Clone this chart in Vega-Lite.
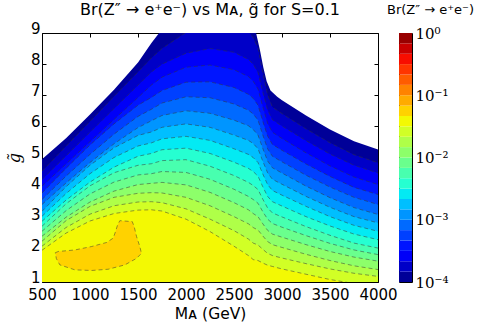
{
"$schema": "https://vega.github.io/schema/vega-lite/v6.json",
"padding": {"left": 5, "top": 1, "right": 5, "bottom": 5},
"background": "white",
"config": {
 "view": {"stroke": "#000", "strokeWidth": 1},
 "font": "DejaVu Sans",
 "axis": {"domain": false, "grid": false, "tickColor": "#000", "labelColor": "#000", "titleColor": "#000", "labelFont": "DejaVu Sans", "labelFontSize": 15, "titleFont": "DejaVu Sans", "titleFontSize": 15.5, "titleFontWeight": "normal", "labelOverlap": false, "labelFlush": false},
 "title": {"font": "DejaVu Sans", "fontWeight": "normal", "color": "#000"}
},
"datasets": {
 "contours": [
  {"k":0,"x":500,"y":4.94},{"k":0,"x":750,"y":5.62},{"k":0,"x":1000,"y":6.38},{"k":0,"x":1250,"y":7.18},{"k":0,"x":1500,"y":8.05},{"k":0,"x":1640,"y":8.68},{"k":0,"x":1720,"y":9.0},{"k":0,"x":1760,"y":9.2},{"k":0,"x":2000,"y":9.3},{"k":0,"x":2650,"y":9.3},{"k":0,"x":2700,"y":9.4},{"k":0,"x":2730,"y":9.0},{"k":0,"x":2770,"y":8.45},{"k":0,"x":2805,"y":7.9},{"k":0,"x":2840,"y":7.45},{"k":0,"x":2880,"y":7.15},{"k":0,"x":2950,"y":6.95},{"k":0,"x":3000,"y":6.84},{"k":0,"x":3250,"y":6.35},{"k":0,"x":3500,"y":5.9},{"k":0,"x":3750,"y":5.52},{"k":0,"x":4000,"y":5.26},
  {"k":1,"x":500,"y":4.56},{"k":1,"x":750,"y":5.36},{"k":1,"x":1000,"y":6.16},{"k":1,"x":1250,"y":6.96},{"k":1,"x":1500,"y":7.75},{"k":1,"x":1640,"y":8.2},{"k":1,"x":1750,"y":8.5},{"k":1,"x":2000,"y":9.02},{"k":1,"x":2250,"y":9.4},{"k":1,"x":2500,"y":9.3},{"k":1,"x":2650,"y":9.05},{"k":1,"x":2700,"y":8.85},{"k":1,"x":2750,"y":8.52},{"k":1,"x":2800,"y":7.73},{"k":1,"x":2850,"y":7.02},{"k":1,"x":2900,"y":6.62},{"k":1,"x":3000,"y":6.41},{"k":1,"x":3250,"y":5.92},{"k":1,"x":3500,"y":5.47},{"k":1,"x":3750,"y":5.09},{"k":1,"x":4000,"y":4.83},
  {"k":2,"x":500,"y":4.29},{"k":2,"x":750,"y":5.05},{"k":2,"x":1000,"y":5.81},{"k":2,"x":1250,"y":6.57},{"k":2,"x":1500,"y":7.32},{"k":2,"x":1640,"y":7.75},{"k":2,"x":1750,"y":8.0},{"k":2,"x":2000,"y":8.35},{"k":2,"x":2250,"y":8.5},{"k":2,"x":2500,"y":8.38},{"k":2,"x":2650,"y":8.15},{"k":2,"x":2700,"y":8.0},{"k":2,"x":2750,"y":7.73},{"k":2,"x":2800,"y":7.1},{"k":2,"x":2850,"y":6.53},{"k":2,"x":2900,"y":6.21},{"k":2,"x":3000,"y":6.01},{"k":2,"x":3250,"y":5.54},{"k":2,"x":3500,"y":5.11},{"k":2,"x":3750,"y":4.75},{"k":2,"x":4000,"y":4.5},
  {"k":3,"x":500,"y":4.08},{"k":3,"x":750,"y":4.79},{"k":3,"x":1000,"y":5.51},{"k":3,"x":1250,"y":6.22},{"k":3,"x":1500,"y":6.93},{"k":3,"x":1640,"y":7.33},{"k":3,"x":1750,"y":7.58},{"k":3,"x":2000,"y":7.9},{"k":3,"x":2250,"y":7.97},{"k":3,"x":2500,"y":7.82},{"k":3,"x":2650,"y":7.6},{"k":3,"x":2700,"y":7.45},{"k":3,"x":2750,"y":7.2},{"k":3,"x":2800,"y":6.63},{"k":3,"x":2850,"y":6.1},{"k":3,"x":2900,"y":5.81},{"k":3,"x":3000,"y":5.61},{"k":3,"x":3250,"y":5.15},{"k":3,"x":3500,"y":4.73},{"k":3,"x":3750,"y":4.37},{"k":3,"x":4000,"y":4.13},
  {"k":4,"x":500,"y":3.86},{"k":4,"x":750,"y":4.65},{"k":4,"x":1000,"y":5.4},{"k":4,"x":1250,"y":6.08},{"k":4,"x":1500,"y":6.68},{"k":4,"x":1640,"y":6.93},{"k":4,"x":1750,"y":7.15},{"k":4,"x":2000,"y":7.42},{"k":4,"x":2250,"y":7.43},{"k":4,"x":2500,"y":7.25},{"k":4,"x":2650,"y":7.03},{"k":4,"x":2700,"y":6.9},{"k":4,"x":2750,"y":6.68},{"k":4,"x":2800,"y":6.16},{"k":4,"x":2850,"y":5.69},{"k":4,"x":2900,"y":5.42},{"k":4,"x":3000,"y":5.23},{"k":4,"x":3250,"y":4.79},{"k":4,"x":3500,"y":4.39},{"k":4,"x":3750,"y":4.04},{"k":4,"x":4000,"y":3.81},
  {"k":5,"x":500,"y":3.65},{"k":5,"x":750,"y":4.4},{"k":5,"x":1000,"y":5.1},{"k":5,"x":1250,"y":5.75},{"k":5,"x":1500,"y":6.32},{"k":5,"x":1640,"y":6.55},{"k":5,"x":1750,"y":6.75},{"k":5,"x":2000,"y":6.95},{"k":5,"x":2250,"y":6.92},{"k":5,"x":2500,"y":6.72},{"k":5,"x":2650,"y":6.52},{"k":5,"x":2700,"y":6.4},{"k":5,"x":2750,"y":6.2},{"k":5,"x":2800,"y":5.72},{"k":5,"x":2850,"y":5.28},{"k":5,"x":2900,"y":5.04},{"k":5,"x":3000,"y":4.86},{"k":5,"x":3250,"y":4.43},{"k":5,"x":3500,"y":4.05},{"k":5,"x":3750,"y":3.72},{"k":5,"x":4000,"y":3.49},
  {"k":6,"x":500,"y":3.49},{"k":6,"x":750,"y":4.18},{"k":6,"x":1000,"y":4.84},{"k":6,"x":1250,"y":5.44},{"k":6,"x":1500,"y":5.96},{"k":6,"x":1640,"y":6.18},{"k":6,"x":1750,"y":6.35},{"k":6,"x":2000,"y":6.5},{"k":6,"x":2250,"y":6.42},{"k":6,"x":2500,"y":6.2},{"k":6,"x":2650,"y":6.02},{"k":6,"x":2700,"y":5.9},{"k":6,"x":2750,"y":5.72},{"k":6,"x":2800,"y":5.29},{"k":6,"x":2850,"y":4.89},{"k":6,"x":2900,"y":4.67},{"k":6,"x":3000,"y":4.5},{"k":6,"x":3250,"y":4.08},{"k":6,"x":3500,"y":3.71},{"k":6,"x":3750,"y":3.39},{"k":6,"x":4000,"y":3.17},
  {"k":7,"x":500,"y":3.27},{"k":7,"x":750,"y":4.06},{"k":7,"x":1000,"y":4.75},{"k":7,"x":1250,"y":5.31},{"k":7,"x":1500,"y":5.71},{"k":7,"x":1640,"y":5.82},{"k":7,"x":1750,"y":5.97},{"k":7,"x":2000,"y":6.08},{"k":7,"x":2250,"y":5.97},{"k":7,"x":2500,"y":5.72},{"k":7,"x":2650,"y":5.55},{"k":7,"x":2700,"y":5.45},{"k":7,"x":2750,"y":5.28},{"k":7,"x":2800,"y":4.88},{"k":7,"x":2850,"y":4.51},{"k":7,"x":2900,"y":4.3},{"k":7,"x":3000,"y":4.14},{"k":7,"x":3250,"y":3.75},{"k":7,"x":3500,"y":3.4},{"k":7,"x":3750,"y":3.1},{"k":7,"x":4000,"y":2.9},
  {"k":8,"x":500,"y":3.11},{"k":8,"x":750,"y":3.84},{"k":8,"x":1000,"y":4.48},{"k":8,"x":1250,"y":5.0},{"k":8,"x":1500,"y":5.37},{"k":8,"x":1640,"y":5.47},{"k":8,"x":1750,"y":5.6},{"k":8,"x":2000,"y":5.68},{"k":8,"x":2250,"y":5.55},{"k":8,"x":2500,"y":5.28},{"k":8,"x":2650,"y":5.1},{"k":8,"x":2700,"y":5.0},{"k":8,"x":2750,"y":4.84},{"k":8,"x":2800,"y":4.47},{"k":8,"x":2850,"y":4.13},{"k":8,"x":2900,"y":3.94},{"k":8,"x":3000,"y":3.79},{"k":8,"x":3250,"y":3.43},{"k":8,"x":3500,"y":3.1},{"k":8,"x":3750,"y":2.82},{"k":8,"x":4000,"y":2.63},
  {"k":9,"x":500,"y":2.95},{"k":9,"x":750,"y":3.63},{"k":9,"x":1000,"y":4.21},{"k":9,"x":1250,"y":4.69},{"k":9,"x":1500,"y":5.04},{"k":9,"x":1640,"y":5.13},{"k":9,"x":1750,"y":5.25},{"k":9,"x":2000,"y":5.3},{"k":9,"x":2250,"y":5.13},{"k":9,"x":2500,"y":4.85},{"k":9,"x":2650,"y":4.65},{"k":9,"x":2700,"y":4.55},{"k":9,"x":2750,"y":4.4},{"k":9,"x":2800,"y":4.06},{"k":9,"x":2850,"y":3.75},{"k":9,"x":2900,"y":3.58},{"k":9,"x":3000,"y":3.44},{"k":9,"x":3250,"y":3.1},{"k":9,"x":3500,"y":2.8},{"k":9,"x":3750,"y":2.54},{"k":9,"x":4000,"y":2.36},
  {"k":10,"x":500,"y":2.79},{"k":10,"x":750,"y":3.51},{"k":10,"x":1000,"y":4.09},{"k":10,"x":1250,"y":4.51},{"k":10,"x":1500,"y":4.75},{"k":10,"x":1640,"y":4.8},{"k":10,"x":1750,"y":4.9},{"k":10,"x":2000,"y":4.93},{"k":10,"x":2250,"y":4.72},{"k":10,"x":2500,"y":4.42},{"k":10,"x":2650,"y":4.2},{"k":10,"x":2700,"y":4.1},{"k":10,"x":2750,"y":3.97},{"k":10,"x":2800,"y":3.66},{"k":10,"x":2850,"y":3.38},{"k":10,"x":2900,"y":3.22},{"k":10,"x":3000,"y":3.09},{"k":10,"x":3250,"y":2.78},{"k":10,"x":3500,"y":2.5},{"k":10,"x":3750,"y":2.25},{"k":10,"x":4000,"y":2.09},
  {"k":11,"x":500,"y":2.63},{"k":11,"x":750,"y":3.29},{"k":11,"x":1000,"y":3.83},{"k":11,"x":1250,"y":4.21},{"k":11,"x":1500,"y":4.44},{"k":11,"x":1640,"y":4.48},{"k":11,"x":1750,"y":4.55},{"k":11,"x":2000,"y":4.52},{"k":11,"x":2250,"y":4.3},{"k":11,"x":2500,"y":3.98},{"k":11,"x":2650,"y":3.75},{"k":11,"x":2700,"y":3.65},{"k":11,"x":2750,"y":3.53},{"k":11,"x":2800,"y":3.26},{"k":11,"x":2850,"y":3.02},{"k":11,"x":2900,"y":2.88},{"k":11,"x":3000,"y":2.76},{"k":11,"x":3250,"y":2.49},{"k":11,"x":3500,"y":2.24},{"k":11,"x":3750,"y":2.03},{"k":11,"x":4000,"y":1.88},
  {"k":12,"x":500,"y":2.47},{"k":12,"x":750,"y":3.08},{"k":12,"x":1000,"y":3.57},{"k":12,"x":1250,"y":3.92},{"k":12,"x":1500,"y":4.13},{"k":12,"x":1640,"y":4.17},{"k":12,"x":1750,"y":4.2},{"k":12,"x":2000,"y":4.12},{"k":12,"x":2250,"y":3.88},{"k":12,"x":2500,"y":3.55},{"k":12,"x":2650,"y":3.32},{"k":12,"x":2700,"y":3.2},{"k":12,"x":2750,"y":3.1},{"k":12,"x":2800,"y":2.87},{"k":12,"x":2850,"y":2.66},{"k":12,"x":2900,"y":2.54},{"k":12,"x":3000,"y":2.44},{"k":12,"x":3250,"y":2.2},{"k":12,"x":3500,"y":1.98},{"k":12,"x":3750,"y":1.8},{"k":12,"x":4000,"y":1.67},
  {"k":13,"x":500,"y":2.31},{"k":13,"x":750,"y":2.97},{"k":13,"x":1000,"y":3.43},{"k":13,"x":1250,"y":3.72},{"k":13,"x":1500,"y":3.85},{"k":13,"x":1640,"y":3.87},{"k":13,"x":1750,"y":3.86},{"k":13,"x":2000,"y":3.72},{"k":13,"x":2250,"y":3.45},{"k":13,"x":2500,"y":3.1},{"k":13,"x":2650,"y":2.87},{"k":13,"x":2700,"y":2.75},{"k":13,"x":2750,"y":2.67},{"k":13,"x":2800,"y":2.48},{"k":13,"x":2850,"y":2.3},{"k":13,"x":2900,"y":2.2},{"k":13,"x":3000,"y":2.11},{"k":13,"x":3250,"y":1.89},{"k":13,"x":3500,"y":1.69},{"k":13,"x":3750,"y":1.52},{"k":13,"x":4000,"y":1.4},
  {"k":14,"x":500,"y":2.15},{"k":14,"x":750,"y":2.75},{"k":14,"x":1000,"y":3.18},{"k":14,"x":1250,"y":3.45},{"k":14,"x":1500,"y":3.57},{"k":14,"x":1640,"y":3.58},{"k":14,"x":1750,"y":3.55},{"k":14,"x":2000,"y":3.35},{"k":14,"x":2250,"y":3.02},{"k":14,"x":2500,"y":2.65},{"k":14,"x":2650,"y":2.38},{"k":14,"x":2700,"y":2.25},{"k":14,"x":2750,"y":2.19},{"k":14,"x":2800,"y":2.05},{"k":14,"x":2850,"y":1.92},{"k":14,"x":2900,"y":1.85},{"k":14,"x":3000,"y":1.77},{"k":14,"x":3250,"y":1.59},{"k":14,"x":3500,"y":1.42},{"k":14,"x":3750,"y":1.28},{"k":14,"x":4000,"y":1.18},
  {"k":15,"x":500,"y":2.02},{"k":15,"x":750,"y":2.57},{"k":15,"x":1000,"y":2.96},{"k":15,"x":1250,"y":3.2},{"k":15,"x":1500,"y":3.31},{"k":15,"x":1640,"y":3.32},{"k":15,"x":1750,"y":3.28},{"k":15,"x":2000,"y":3.02},{"k":15,"x":2250,"y":2.62},{"k":15,"x":2500,"y":2.15},{"k":15,"x":2650,"y":1.85},{"k":15,"x":2700,"y":1.72},{"k":15,"x":2750,"y":1.69},{"k":15,"x":2800,"y":1.61},{"k":15,"x":2850,"y":1.54},{"k":15,"x":2900,"y":1.5},{"k":15,"x":3000,"y":1.42},{"k":15,"x":3250,"y":1.25},{"k":15,"x":3500,"y":1.08},{"k":15,"x":3750,"y":0.95},{"k":15,"x":4000,"y":0.85}
 ],
 "blob": [
  {"i":1,"x":638,"y":1.94},{"i":2,"x":670,"y":1.98},{"i":3,"x":843,"y":2.03},{"i":4,"x":1017,"y":2.14},{"i":5,"x":1173,"y":2.27},{"i":6,"x":1242,"y":2.41},{"i":7,"x":1266,"y":2.62},{"i":8,"x":1287,"y":2.83},{"i":9,"x":1311,"y":2.97},{"i":10,"x":1440,"y":2.94},{"i":11,"x":1460,"y":2.78},{"i":12,"x":1485,"y":2.46},{"i":13,"x":1519,"y":2.14},{"i":14,"x":1536,"y":1.92},{"i":15,"x":1485,"y":1.76},{"i":16,"x":1363,"y":1.55},{"i":17,"x":1190,"y":1.41},{"i":18,"x":1017,"y":1.37},{"i":19,"x":843,"y":1.39},{"i":20,"x":686,"y":1.55},{"i":21,"x":650,"y":1.75}
 ],
 "bar": [
  {"k":0,"lo":0.0001,"hi":0.00014678},{"k":1,"lo":0.00014678,"hi":0.00021544},{"k":2,"lo":0.00021544,"hi":0.00031623},{"k":3,"lo":0.00031623,"hi":0.00046416},{"k":4,"lo":0.00046416,"hi":0.00068129},{"k":5,"lo":0.00068129,"hi":0.001},
  {"k":6,"lo":0.001,"hi":0.0014678},{"k":7,"lo":0.0014678,"hi":0.0021544},{"k":8,"lo":0.0021544,"hi":0.0031623},{"k":9,"lo":0.0031623,"hi":0.0046416},{"k":10,"lo":0.0046416,"hi":0.0068129},{"k":11,"lo":0.0068129,"hi":0.01},
  {"k":12,"lo":0.01,"hi":0.014678},{"k":13,"lo":0.014678,"hi":0.021544},{"k":14,"lo":0.021544,"hi":0.031623},{"k":15,"lo":0.031623,"hi":0.046416},{"k":16,"lo":0.046416,"hi":0.068129},{"k":17,"lo":0.068129,"hi":0.1},
  {"k":18,"lo":0.1,"hi":0.14678},{"k":19,"lo":0.14678,"hi":0.21544},{"k":20,"lo":0.21544,"hi":0.31623},{"k":21,"lo":0.31623,"hi":0.46416},{"k":22,"lo":0.46416,"hi":0.68129},{"k":23,"lo":0.68129,"hi":1}
 ]
},
"hconcat": [
 {
  "width": 336, "height": 249,
  "title": {"text": "Br(Z″ → e⁺e⁻) vs Mᴀ, g̃ for S=0.1", "fontSize": 16, "offset": 3},
  "layer": [
   {
    "data": {"name": "contours"},
    "mark": {"type": "area", "clip": true, "interpolate": "linear"},
    "encoding": {
     "x": {"field": "x", "type": "quantitative", "scale": {"domain": [500, 4000], "nice": false, "zero": false},
           "axis": {"orient": "bottom", "values": [500,1000,1500,2000,2500,3000,3500,4000], "format": "d", "title": "Mᴀ (GeV)", "tickSize": -4, "labelPadding": 9, "titlePadding": 4}},
     "y": {"field": "y", "type": "quantitative", "stack": null, "scale": {"domain": [1, 9], "nice": false, "zero": false},
           "axis": {"orient": "left", "values": [1,2,3,4,5,6,7,8,9], "format": "d", "title": "g̃", "titleFont": "DejaVu Serif", "titleFontStyle": "italic", "titleFontSize": 16, "tickSize": -4, "labelPadding": 6, "labelOffset": -5, "titlePadding": 8}},
     "y2": {"datum": 1},
     "color": {"field": "k", "type": "ordinal",
       "scale": {"domain": [0,1,2,3,4,5,6,7,8,9,10,11,12,13,14,15,16,17,18,19,20,21,22,23],
                 "range": ["#000098","#0000C8","#0000F8","#0015FF","#0040FF","#006AFF","#0095FF","#00BFFF","#03EAF3","#26FFD1","#48FFAF","#6AFF8D","#8DFF6A","#AFFF48","#D1FF26","#F3F903","#FFD200","#FFAB00","#FF8300","#FF5C00","#FF3500","#F80D00","#C80000","#980000"]},
       "legend": null}
    }
   },
   {
    "data": {"name": "contours"},
    "transform": [{"filter": "datum.k > 0"}],
    "mark": {"type": "line", "clip": true, "stroke": "#333", "strokeWidth": 1, "strokeDash": [4, 3], "opacity": 0.5},
    "encoding": {
     "x": {"field": "x", "type": "quantitative", "axis": {"orient": "top", "values": [500,1000,1500,2000,2500,3000,3500,4000], "labels": false, "title": null, "tickSize": -4}},
     "y": {"field": "y", "type": "quantitative", "axis": {"orient": "right", "values": [1,2,3,4,5,6,7,8,9], "labels": false, "title": null, "tickSize": -4}},
     "detail": {"field": "k", "type": "nominal"}
    }
   },
   {
    "data": {"name": "blob"},
    "mark": {"type": "line", "interpolate": "linear-closed", "fill": "#FFD200", "stroke": "#333", "strokeOpacity": 0.5, "strokeWidth": 1, "strokeDash": [4, 3], "clip": true},
    "encoding": {
     "x": {"field": "x", "type": "quantitative", "axis": null},
     "y": {"field": "y", "type": "quantitative", "axis": null},
     "order": {"field": "i", "type": "quantitative"}
    }
   }
  ]
 },
 {
  "width": 13, "height": 249,
  "title": {"text": "Br(Z″ → e⁺e⁻)", "fontSize": 13, "anchor": "start", "dx": -12, "offset": 9},
  "data": {"name": "bar"},
  "mark": {"type": "rect"},
  "encoding": {
   "y": {"field": "lo", "type": "quantitative", "scale": {"type": "log", "domain": [0.0001, 1], "nice": false},
         "axis": {"orient": "right", "values": [0.0001, 0.001, 0.01, 0.1, 1], "ticks": false, "labelPadding": 3, "labelFont": "DejaVu Serif", "labelFontSize": 15, "title": null,
                  "labelExpr": "'10' + ['⁰','⁻¹','⁻²','⁻³','⁻⁴'][round(-log(datum.value)/LN10)]"}},
   "y2": {"field": "hi"},
   "color": {"field": "k", "type": "ordinal",
       "scale": {"domain": [0,1,2,3,4,5,6,7,8,9,10,11,12,13,14,15,16,17,18,19,20,21,22,23],
                 "range": ["#000098","#0000C8","#0000F8","#0015FF","#0040FF","#006AFF","#0095FF","#00BFFF","#03EAF3","#26FFD1","#48FFAF","#6AFF8D","#8DFF6A","#AFFF48","#D1FF26","#F3F903","#FFD200","#FFAB00","#FF8300","#FF5C00","#FF3500","#F80D00","#C80000","#980000"]},
       "legend": null}
  }
 }
],
"bounds": "flush",
"spacing": 21
}
